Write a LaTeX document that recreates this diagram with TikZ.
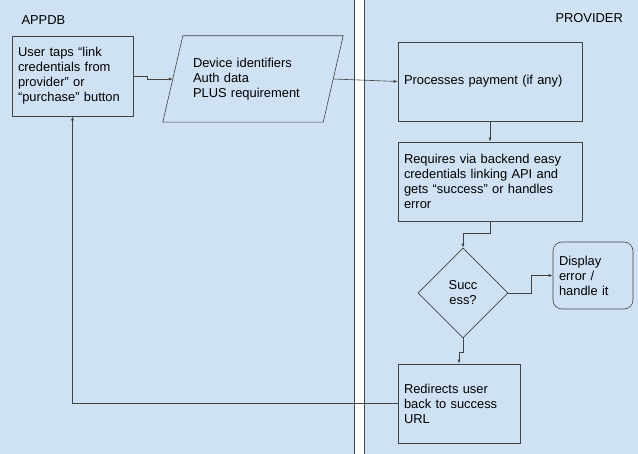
\documentclass[tikz,border=0pt]{standalone}
\usepackage{fontspec}
\setmainfont{Liberation Sans}
\usepackage{xcolor}
\usetikzlibrary{shapes.geometric,arrows.meta}

\definecolor{lanefill}{HTML}{CFE2F3}
\definecolor{edge}{HTML}{434343}

\tikzset{
  flow/.style={draw=edge, line width=0.6pt, -{Latex[length=4pt,width=3pt]}},
  box/.style={draw=edge, line width=0.6pt, fill=lanefill, align=left, inner sep=6pt}
}

\begin{document}
\begin{tikzpicture}[x=1pt, y=-1pt, font=\fontsize{12.9}{15}\selectfont]
  \useasboundingbox (0,0) rectangle (638,454);
  % lanes
  \fill[lanefill] (0,0) rectangle (354,454);
  \fill[white] (354,0) rectangle (364,454);
  \fill[lanefill] (364,0) rectangle (638,454);
  \draw[edge, line width=0.6pt] (354,0) -- (354,454);
  \draw[edge, line width=0.6pt] (364,0) -- (364,454);

  \node[anchor=west] (appdb) at (18,20) {APPDB};
  \node[anchor=west] (provider) at (552,18) {PROVIDER};

  % app side
  \node[box, minimum width=121pt, minimum height=80pt, text width=109pt] (user) at (72.5,76)
    {User taps “link\\credentials from\\provider” or\\“purchase” button};
  \node[minimum width=160pt, minimum height=86pt, text width=120pt, align=left, inner sep=0pt]
    (data) at (253,79) {Device identifiers\\Auth data\\PLUS requirement};
  \draw[edge, line width=0.6pt] ([xshift=10]data.north west) -- ([xshift=10]data.north east)
    -- ([xshift=-10]data.south east) -- ([xshift=-10]data.south west) -- cycle;

  % provider side
  \node[box, minimum width=184pt, minimum height=79pt, text width=172pt] (proc) at (490,81.5)
    {Processes payment (if any)};
  \node[box, minimum width=184pt, minimum height=79pt, text width=172pt] (req) at (490,181.5)
    {Requires via backend easy\\credentials linking API and\\gets “success” or handles\\error};
  \node[draw=edge, line width=0.6pt, fill=lanefill, diamond, aspect=1, minimum width=90pt,
    minimum height=90pt, inner sep=0pt, align=center] (dec) at (463,293) {Succ\\ess?};
  \node[box, rounded corners=9pt, minimum width=80pt, minimum height=67pt, text width=68pt] (disp)
    at (593,275.5) {Display\\error /\\handle it};
  \node[box, minimum width=122pt, minimum height=79pt, text width=110pt] (redir) at (459,403.5)
    {Redirects user\\back to success\\URL};

  % connectors
  \draw[flow] (user.east) -- ++(14,0) |- (data.west);
  \draw[flow] (data.east) -- (proc.west);
  \draw[flow] (proc.south) -- (req.north);
  \draw[flow] (req.south) -- ++(0,12) -| (dec.north);
  \draw[flow] (dec.east) -- ++(23,0) |- (disp.west);
  \draw[flow] (dec.south) -- ++(0,14) -| (redir.north);
  \draw[flow] (redir.west) -| (user.south);

\end{tikzpicture}
\end{document}
